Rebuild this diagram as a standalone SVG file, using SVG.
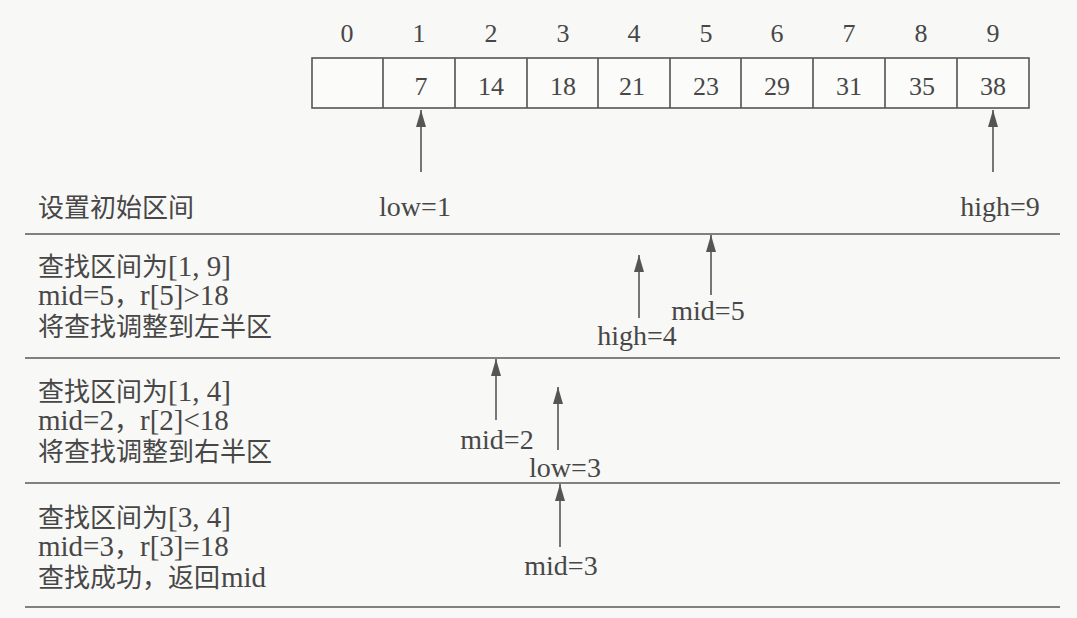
<svg xmlns="http://www.w3.org/2000/svg" width="1077" height="618" viewBox="0 0 1077 618">
<style>
.bg{fill:#f8f8f6}
.cell{fill:#fbfbfa;stroke:#555;stroke-width:1.6}
.t{font-family:"Liberation Serif","Noto Sans CJK SC",serif;fill:#474747}
.lat{font-family:"Liberation Serif",serif;font-size:29px}
.num{font-size:26px;text-anchor:middle}
.lbl{font-size:28px;text-anchor:middle}
.desc{font-size:26px}
.sep{stroke:#5a5a5a;stroke-width:1.7}
.arr{stroke:#555;stroke-width:1.6;fill:none;marker-end:url(#ah)}
</style>
<defs>
<marker id="ah" markerUnits="userSpaceOnUse" markerWidth="18" markerHeight="11" refX="17" refY="5" orient="auto">
<path d="M0,0 L17,5 L0,10 z" fill="#555"/>
</marker>
</defs>
<rect class="bg" x="0" y="0" width="1077" height="618"/>

<g id="indices" class="t num">
<text x="347" y="42">0</text>
<text x="419" y="42">1</text>
<text x="491" y="42">2</text>
<text x="563" y="42">3</text>
<text x="634" y="42">4</text>
<text x="706" y="42">5</text>
<text x="777" y="42">6</text>
<text x="849" y="42">7</text>
<text x="921" y="42">8</text>
<text x="993" y="42">9</text>
</g>

<g id="array">
<rect class="cell" x="312" y="58" width="717" height="50"/>
<g class="sep">
<line x1="383" y1="58" x2="383" y2="108"/>
<line x1="455" y1="58" x2="455" y2="108"/>
<line x1="527" y1="58" x2="527" y2="108"/>
<line x1="598" y1="58" x2="598" y2="108"/>
<line x1="670" y1="58" x2="670" y2="108"/>
<line x1="741" y1="58" x2="741" y2="108"/>
<line x1="813" y1="58" x2="813" y2="108"/>
<line x1="885" y1="58" x2="885" y2="108"/>
<line x1="957" y1="58" x2="957" y2="108"/>
</g>
<g class="t num">
<text x="421" y="95">7</text>
<text x="491" y="95">14</text>
<text x="563" y="95">18</text>
<text x="632" y="95">21</text>
<text x="706" y="95">23</text>
<text x="777" y="95">29</text>
<text x="849" y="95">31</text>
<text x="922" y="95">35</text>
<text x="993" y="95">38</text>
</g>
</g>

<g id="separators" class="sep">
<line x1="25" y1="234" x2="1060" y2="234"/>
<line x1="25" y1="358" x2="1060" y2="358"/>
<line x1="25" y1="483" x2="1060" y2="483"/>
<line x1="25" y1="607" x2="1060" y2="607"/>
</g>

<g id="step1" class="t">
<text class="desc" x="38" y="217">设置初始区间</text>
<text class="lbl" x="415" y="216">low=1</text>
<text class="lbl" x="1000" y="216">high=9</text>
</g>

<g id="step2" class="t">
<text class="desc" x="38" y="276">查找区间为<tspan class="lat">[1, 9]</tspan></text>
<text class="desc" x="38" y="305"><tspan class="lat">mid=5</tspan>，<tspan class="lat">r[5]&gt;18</tspan></text>
<text class="desc" x="38" y="336">将查找调整到左半区</text>
<text class="lbl" x="708" y="320">mid=5</text>
<text class="lbl" x="637" y="345">high=4</text>
</g>

<g id="step3" class="t">
<text class="desc" x="38" y="401">查找区间为<tspan class="lat">[1, 4]</tspan></text>
<text class="desc" x="38" y="430"><tspan class="lat">mid=2</tspan>，<tspan class="lat">r[2]&lt;18</tspan></text>
<text class="desc" x="38" y="461">将查找调整到右半区</text>
<text class="lbl" x="497" y="449">mid=2</text>
<text class="lbl" x="565" y="477">low=3</text>
</g>

<g id="step4" class="t">
<text class="desc" x="38" y="527">查找区间为<tspan class="lat">[3, 4]</tspan></text>
<text class="desc" x="38" y="556"><tspan class="lat">mid=3</tspan>，<tspan class="lat">r[3]=18</tspan></text>
<text class="desc" x="38" y="587">查找成功，返回</text>
<text class="lat" x="221" y="587">mid</text>
<text class="lbl" x="561" y="575">mid=3</text>
</g>

<g id="connectors">
<line class="arr" x1="421" y1="172" x2="421" y2="110"/>
<line class="arr" x1="993" y1="172" x2="993" y2="110"/>
<line class="arr" x1="711" y1="295" x2="711" y2="235"/>
<line class="arr" x1="639" y1="318" x2="639" y2="255"/>
<line class="arr" x1="496" y1="420" x2="496" y2="359"/>
<line class="arr" x1="558" y1="450" x2="558" y2="387"/>
<line class="arr" x1="560" y1="547" x2="560" y2="484"/>
</g>
</svg>
